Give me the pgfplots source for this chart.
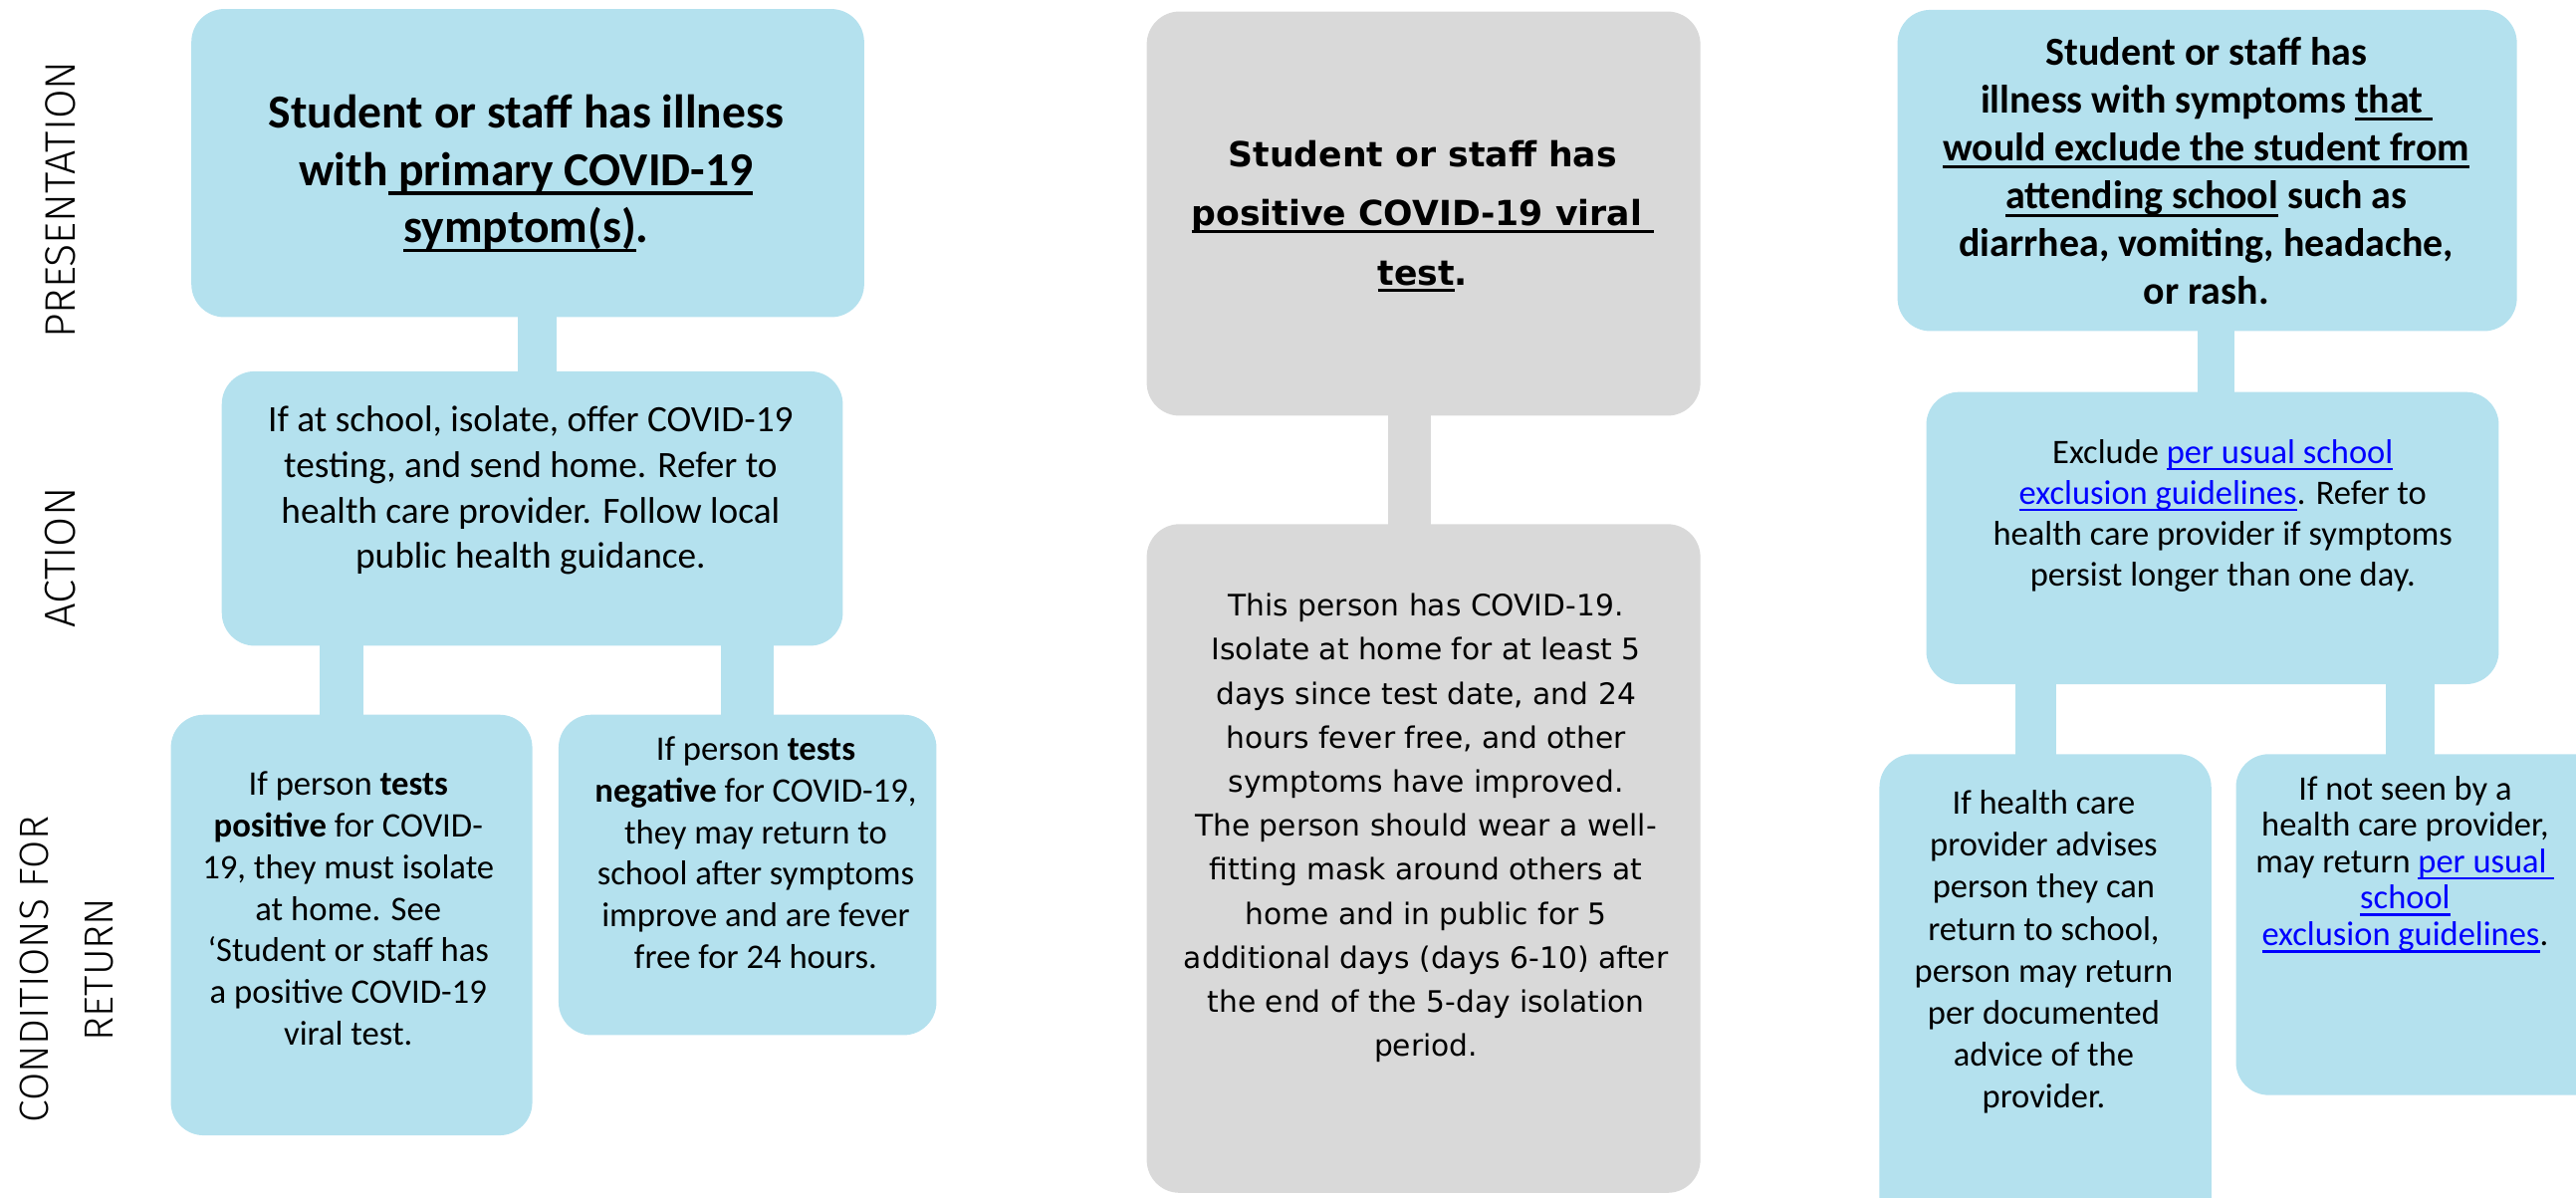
\documentclass[border=0pt]{standalone}
\usepackage{pgfplots}
\pgfplotsset{compat=1.18}
\usepackage{fontspec}
\setmainfont{Carlito}
\newfontfamily\calib{Carlito}
\newfontfamily\verd{DejaVu Sans}
\IfFontExistsTF{Fira Sans Light}{\newfontfamily\lab{Fira Sans Light}}{\newfontfamily\lab{Fira Sans}}
\definecolor{boxblue}{HTML}{B4E1EE}
\definecolor{boxgray}{HTML}{D9D9D9}
\definecolor{linkblue}{HTML}{0000FF}
\newcommand\ul[1]{\setbox0\hbox{#1}\rlap{\rule[-0.2em]{\wd0}{0.075em}}\box0\relax}
\newcommand\lnk[1]{\textcolor{linkblue}{\ul{#1}}}
\begin{document}
\begin{tikzpicture}
\begin{axis}[
  scale only axis, width=784pt, height=364.5pt,
  xmin=0, xmax=1568, ymin=0, ymax=729, y dir=reverse,
  hide axis, clip=true,
]
% connectors
\addplot[fill=boxblue, draw=none] coordinates {(315,188) (339,188) (339,229) (315,229)};
\addplot[fill=boxblue, draw=none] coordinates {(194.5,390) (221.5,390) (221.5,437) (194.5,437)};
\addplot[fill=boxblue, draw=none] coordinates {(439,390) (471,390) (471,437) (439,437)};
\addplot[fill=boxgray, draw=none] coordinates {(845,250) (871,250) (871,321) (845,321)};
\addplot[fill=boxblue, draw=none] coordinates {(1337.7,199) (1360,199) (1360,240) (1337.7,240)};
\addplot[fill=boxblue, draw=none] coordinates {(1226.7,413) (1251.7,413) (1251.7,461) (1226.7,461)};
\addplot[fill=boxblue, draw=none] coordinates {(1452,413) (1482,413) (1482,461) (1452,461)};
% boxes
\addplot[fill=boxblue, draw=none, rounded corners=10pt] coordinates {(321,5.5) (526,5.5) (526,193) (116.5,193) (116.5,5.5) (321,5.5)};
\addplot[fill=boxblue, draw=none, rounded corners=10pt] coordinates {(324,226) (513,226) (513,393) (135,393) (135,226) (324,226)};
\addplot[fill=boxblue, draw=none, rounded corners=10pt] coordinates {(214,435) (324,435) (324,691) (104,691) (104,435) (214,435)};
\addplot[fill=boxblue, draw=none, rounded corners=10pt] coordinates {(455,435) (570,435) (570,630) (340,630) (340,435) (455,435)};
\addplot[fill=boxgray, draw=none, rounded corners=10pt] coordinates {(866,7) (1035,7) (1035,253) (698,253) (698,7) (866,7)};
\addplot[fill=boxgray, draw=none, rounded corners=10pt] coordinates {(866,319) (1035,319) (1035,726) (698,726) (698,319) (866,319)};
\addplot[fill=boxblue, draw=none, rounded corners=10pt] coordinates {(1343,6) (1532,6) (1532,201.5) (1155,201.5) (1155,6) (1343,6)};
\addplot[fill=boxblue, draw=none, rounded corners=10pt] coordinates {(1347,238.6) (1521,238.6) (1521,416.4) (1172.5,416.4) (1172.5,238.6) (1347,238.6)};
\addplot[fill=boxblue, draw=none, rounded corners=10pt] coordinates {(1245,459) (1346,459) (1346,770) (1144,770) (1144,459) (1245,459)};
\addplot[fill=boxblue, draw=none, rounded corners=10pt] coordinates {(1480,459) (1640,459) (1640,666.5) (1361,666.5) (1361,459) (1480,459)};
% side labels
\node[rotate=90, inner sep=0pt, font={\lab\fontsize{13}{15}\selectfont}] at (axis cs:37,121.5) {PRESENTATION};
\node[rotate=90, inner sep=0pt, font={\lab\fontsize{13.2}{15}\selectfont}] at (axis cs:37,339.5) {ACTION};
\node[rotate=90, inner sep=0pt, align=center, font={\lab\fontsize{12.4}{19.5}\selectfont}] at (axis cs:40.5,590) {CONDITIONS FOR\\RETURN};
% texts
\node[inner sep=0pt, align=center, font={\calib\bfseries\fontsize{14.4}{17.5}\selectfont}] at (axis cs:320.3,105.5)
 {Student or staff has illness\\with\ul{ primary COVID-19}\\\ul{symptom(s)}.};
\node[inner sep=0pt, align=center, font={\calib\fontsize{11.3}{13.8}\selectfont}] at (axis cs:323,298.5)
 {If at school, isolate, offer COVID-19\\testing, and send home. Refer to\\health care provider. Follow local\\public health guidance.};
\node[inner sep=0pt, align=center, font={\calib\fontsize{10.5}{12.65}\selectfont}] at (axis cs:212,553)
 {If person \textbf{tests}\\\textbf{positive} for COVID-\\19, they must isolate\\at home. See\\‘Student or staff has\\a positive COVID-19\\viral test.};
\node[inner sep=0pt, align=center, font={\calib\fontsize{10.5}{12.65}\selectfont}] at (axis cs:460,519)
 {If person \textbf{tests}\\\textbf{negative} for COVID-19,\\they may return to\\school after symptoms\\improve and are fever\\free for 24 hours.};
\node[inner sep=0pt, align=center, font={\verd\bfseries\fontsize{10.5}{18}\selectfont}] at (axis cs:866,131.5)
 {Student or staff has\\\ul{positive COVID-19 viral }\\\ul{test}.};
\node[inner sep=0pt, align=center, font={\verd\fontsize{9}{13.4}\selectfont}] at (axis cs:868,504)
 {This person has COVID-19.\\Isolate at home for at least 5\\days since test date, and 24\\hours fever free, and other\\symptoms have improved.\\The person should wear a well-\\fitting mask around others at\\home and in public for 5\\additional days (days 6-10) after\\the end of the 5-day isolation\\period.};
\node[inner sep=0pt, align=center, font={\calib\bfseries\fontsize{12.1}{14.6}\selectfont}] at (axis cs:1343,104)
 {Student or staff has\\illness with symptoms \ul{that }\\\ul{would exclude the student from}\\\ul{attending school} such as\\diarrhea, vomiting, headache,\\or rash.};
\node[inner sep=0pt, align=center, font={\calib\fontsize{10.45}{12.5}\selectfont}] at (axis cs:1353,314)
 {Exclude \lnk{per usual school}\\\lnk{exclusion guidelines}. Refer to\\health care provider if symptoms\\persist longer than one day.};
\node[inner sep=0pt, align=center, font={\calib\fontsize{10.45}{12.76}\selectfont}] at (axis cs:1244,579.4)
 {If health care\\provider advises\\person they can\\return to school,\\person may return\\per documented\\advice of the\\provider.};
\node[inner sep=0pt, align=center, font={\calib\fontsize{10.45}{11.1}\selectfont}] at (axis cs:1464,526)
 {If not seen by a\\health care provider,\\may return \lnk{per usual }\\\lnk{school}\\\lnk{exclusion guidelines}.};
\end{axis}
\pgfresetboundingbox
\path[use as bounding box] (current axis.south west) rectangle (current axis.north east);
\end{tikzpicture}
\end{document}
